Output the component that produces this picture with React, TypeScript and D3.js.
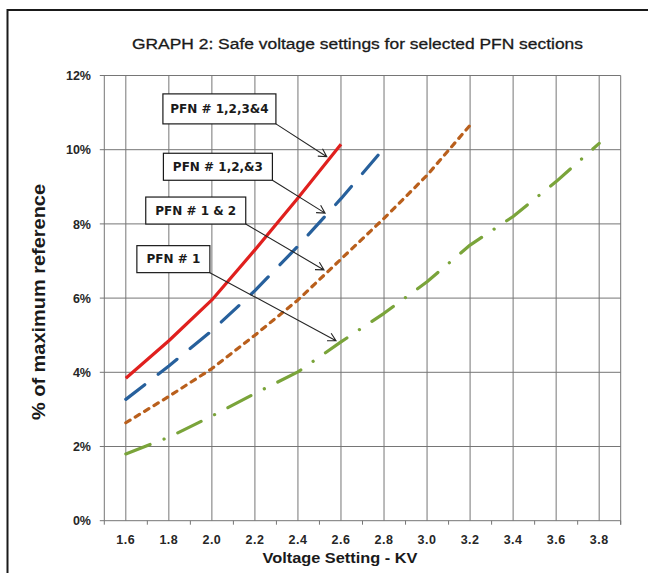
import React, { useEffect, useRef } from 'react';
import * as d3 from 'd3';

// voltage setting (kV) for each reading
const voltages = [1.6, 1.8, 2.0, 2.2, 2.4, 2.6, 2.8, 3.0, 3.2, 3.4, 3.6, 3.8];
const xTickLabels = ['1.6', '1.8', '2.0', '2.2', '2.4', '2.6', '2.8', '3.0', '3.2', '3.4', '3.6', '3.8'];
const yTickValues = [0, 2, 4, 6, 8, 10, 12];

// % of maximum reference, one value per voltage (curves stop where they pass 10%)
const pfn1234 = [3.84, 4.85, 5.95, 7.3, 8.7, 10.15];
const pfn123 = [3.27, 4.17, 5.12, 6.2, 7.4, 8.68, 10.04];
const pfn12 = [2.64, 3.35, 4.1, 5.0, 5.95, 7.05, 8.15, 9.31, 10.66];
const pfn1 = [1.8, 2.25, 2.82, 3.43, 4.01, 4.82, 5.59, 6.44, 7.43, 8.2, 9.14, 10.17];

interface Series {
  name: string;
  values: number[];
  color: string;
  dash: string | null;
}

const series: Series[] = [
  { name: 'PFN # 1', values: pfn1, color: '#7aa43a', dash: '26,15,0.1,15' },
  { name: 'PFN # 1 & 2', values: pfn12, color: '#b95f1c', dash: '5,6' },
  { name: 'PFN # 1,2,&3', values: pfn123, color: '#27609c', dash: '24,17' },
  { name: 'PFN # 1,2,3&4', values: pfn1234, color: '#e0201e', dash: null },
];

// call-out boxes: box centre and arrow tip in chart units (kV, %)
const callouts = [
  { label: 'PFN # 1,2,3&4', kv: 2.035, pct: 11.1, w: 113, h: 30, tipKv: 2.534, tipPct: 9.81 },
  { label: 'PFN # 1,2,&3', kv: 2.028, pct: 9.54, w: 109, h: 27, tipKv: 2.526, tipPct: 8.29 },
  { label: 'PFN # 1 & 2', kv: 1.925, pct: 8.36, w: 100, h: 27, tipKv: 2.521, tipPct: 6.76 },
  { label: 'PFN # 1', kv: 1.821, pct: 7.05, w: 73, h: 27, tipKv: 2.577, tipPct: 4.85 },
];

const W = 648;
const H = 573;
const font = '"Liberation Sans", Arial, sans-serif';
const gridColor = '#767676';

export default function App() {
  const ref = useRef<SVGSVGElement>(null);

  useEffect(() => {
    const svg = d3.select(ref.current);
    svg.selectAll('*').remove();

    const x = d3.scaleLinear().domain([1.5, 3.9]).range([104.3, 620.7]);
    const y = d3.scaleLinear().domain([0, 12]).range([520.7, 75.5]);

    svg.append('rect').attr('width', W).attr('height', H).attr('fill', '#fff');
    svg
      .append('rect')
      .attr('x', 7.5)
      .attr('y', 10)
      .attr('width', 700)
      .attr('height', 700)
      .attr('fill', 'none')
      .attr('stroke', '#1a1a1a')
      .attr('stroke-width', 2);

    svg
      .append('text')
      .attr('x', 357.5)
      .attr('y', 48.5)
      .attr('text-anchor', 'middle')
      .attr('font-family', font)
      .attr('font-size', 15.5)
      .attr('stroke', '#1a1a1a')
      .attr('stroke-width', 0.3)
      .attr('fill', '#1a1a1a')
      .attr('textLength', 451)
      .attr('lengthAdjust', 'spacingAndGlyphs')
      .text('GRAPH 2: Safe voltage settings for selected PFN sections');

    const grid = svg.append('g').attr('stroke', gridColor).attr('stroke-width', 1);
    grid
      .selectAll('line.h')
      .data(yTickValues)
      .join('line')
      .attr('class', 'h')
      .attr('x1', x(1.5) - 4.5)
      .attr('x2', x(3.9))
      .attr('y1', (d) => y(d))
      .attr('y2', (d) => y(d));
    grid
      .selectAll('line.v')
      .data(voltages)
      .join('line')
      .attr('class', 'v')
      .attr('x1', (d) => x(d))
      .attr('x2', (d) => x(d))
      .attr('y1', y(12))
      .attr('y2', y(0));
    // plot edges
    grid.append('line').attr('x1', x(1.5)).attr('x2', x(1.5)).attr('y1', y(12)).attr('y2', y(0));
    grid.append('line').attr('x1', x(3.9)).attr('x2', x(3.9)).attr('y1', y(12)).attr('y2', y(0) + 4);
    // x tick marks sit between the labels
    grid
      .selectAll('line.xt')
      .data(d3.range(0, 13).map((i) => 1.5 + i * 0.2))
      .join('line')
      .attr('class', 'xt')
      .attr('x1', (d) => x(d))
      .attr('x2', (d) => x(d))
      .attr('y1', y(0))
      .attr('y2', y(0) + 4);

    svg
      .append('g')
      .selectAll('text')
      .data(yTickValues)
      .join('text')
      .attr('x', 91)
      .attr('y', (d) => y(d) + 4.6)
      .attr('text-anchor', 'end')
      .attr('font-family', font)
      .attr('font-weight', 'bold')
      .attr('font-size', 12.5)
      .attr('fill', '#262626')
      .text((d) => `${d}%`);

    svg
      .append('g')
      .selectAll('text')
      .data(voltages)
      .join('text')
      .attr('x', (d) => x(d))
      .attr('y', 543.5)
      .attr('text-anchor', 'middle')
      .attr('font-family', font)
      .attr('font-weight', 'bold')
      .attr('font-size', 12.5)
      .attr('letter-spacing', 0.5)
      .attr('fill', '#262626')
      .text((_, i) => xTickLabels[i]);

    svg
      .append('text')
      .attr('x', 340)
      .attr('y', 563)
      .attr('text-anchor', 'middle')
      .attr('font-family', font)
      .attr('font-weight', 'bold')
      .attr('font-size', 14.5)
      .attr('fill', '#1a1a1a')
      .attr('textLength', 155)
      .attr('lengthAdjust', 'spacingAndGlyphs')
      .text('Voltage Setting - KV');

    svg
      .append('text')
      .attr('transform', 'translate(45,302) rotate(-90)')
      .attr('text-anchor', 'middle')
      .attr('font-family', font)
      .attr('font-weight', 'bold')
      .attr('font-size', 18.5)
      .attr('fill', '#1a1a1a')
      .attr('textLength', 236)
      .attr('lengthAdjust', 'spacingAndGlyphs')
      .text('% of maximum reference');

    const line = d3
      .line<number>()
      .x((_, i) => x(voltages[i]))
      .y((d) => y(d));

    series.forEach((s) => {
      svg
        .append('path')
        .datum(s.values)
        .attr('fill', 'none')
        .attr('stroke', s.color)
        .attr('stroke-width', 3.2)
        .attr('stroke-linecap', s.dash ? 'round' : 'butt')
        .attr('stroke-linejoin', 'round')
        .attr('stroke-dasharray', s.dash)
        .attr('d', line);
    });

    callouts.forEach((c) => {
      const cx = x(c.kv);
      const cy = y(c.pct);
      const x0 = cx + c.w / 2;
      const y0 = cy + c.h / 2;
      const tx = x(c.tipKv);
      const ty = y(c.tipPct);
      const ang = Math.atan2(ty - y0, tx - x0);
      const len = 9;
      const spread = 0.5;
      const a1 = [tx - len * Math.cos(ang - spread), ty - len * Math.sin(ang - spread)];
      const a2 = [tx - len * Math.cos(ang + spread), ty - len * Math.sin(ang + spread)];
      svg
        .append('path')
        .attr('d', `M${x0},${y0}L${tx},${ty}M${a1[0]},${a1[1]}L${tx},${ty}L${a2[0]},${a2[1]}`)
        .attr('fill', 'none')
        .attr('stroke', '#262626')
        .attr('stroke-width', 1.1);
      svg
        .append('rect')
        .attr('x', cx - c.w / 2)
        .attr('y', cy - c.h / 2)
        .attr('width', c.w)
        .attr('height', c.h)
        .attr('fill', '#fff')
        .attr('stroke', '#1a1a1a')
        .attr('stroke-width', 1.2);
      svg
        .append('text')
        .attr('x', cx)
        .attr('y', cy + 4.3)
        .attr('text-anchor', 'middle')
        .attr('font-family', '"DejaVu Sans", sans-serif')
        .attr('font-weight', 'bold')
        .attr('font-size', 12)
        .attr('fill', '#1a1a1a')
        .text(c.label);
    });
  }, []);

  return (
    <svg
      ref={ref}
      width={W}
      height={H}
      style={{ position: 'absolute', left: 0, top: 0, display: 'block' }}
    />
  );
}
